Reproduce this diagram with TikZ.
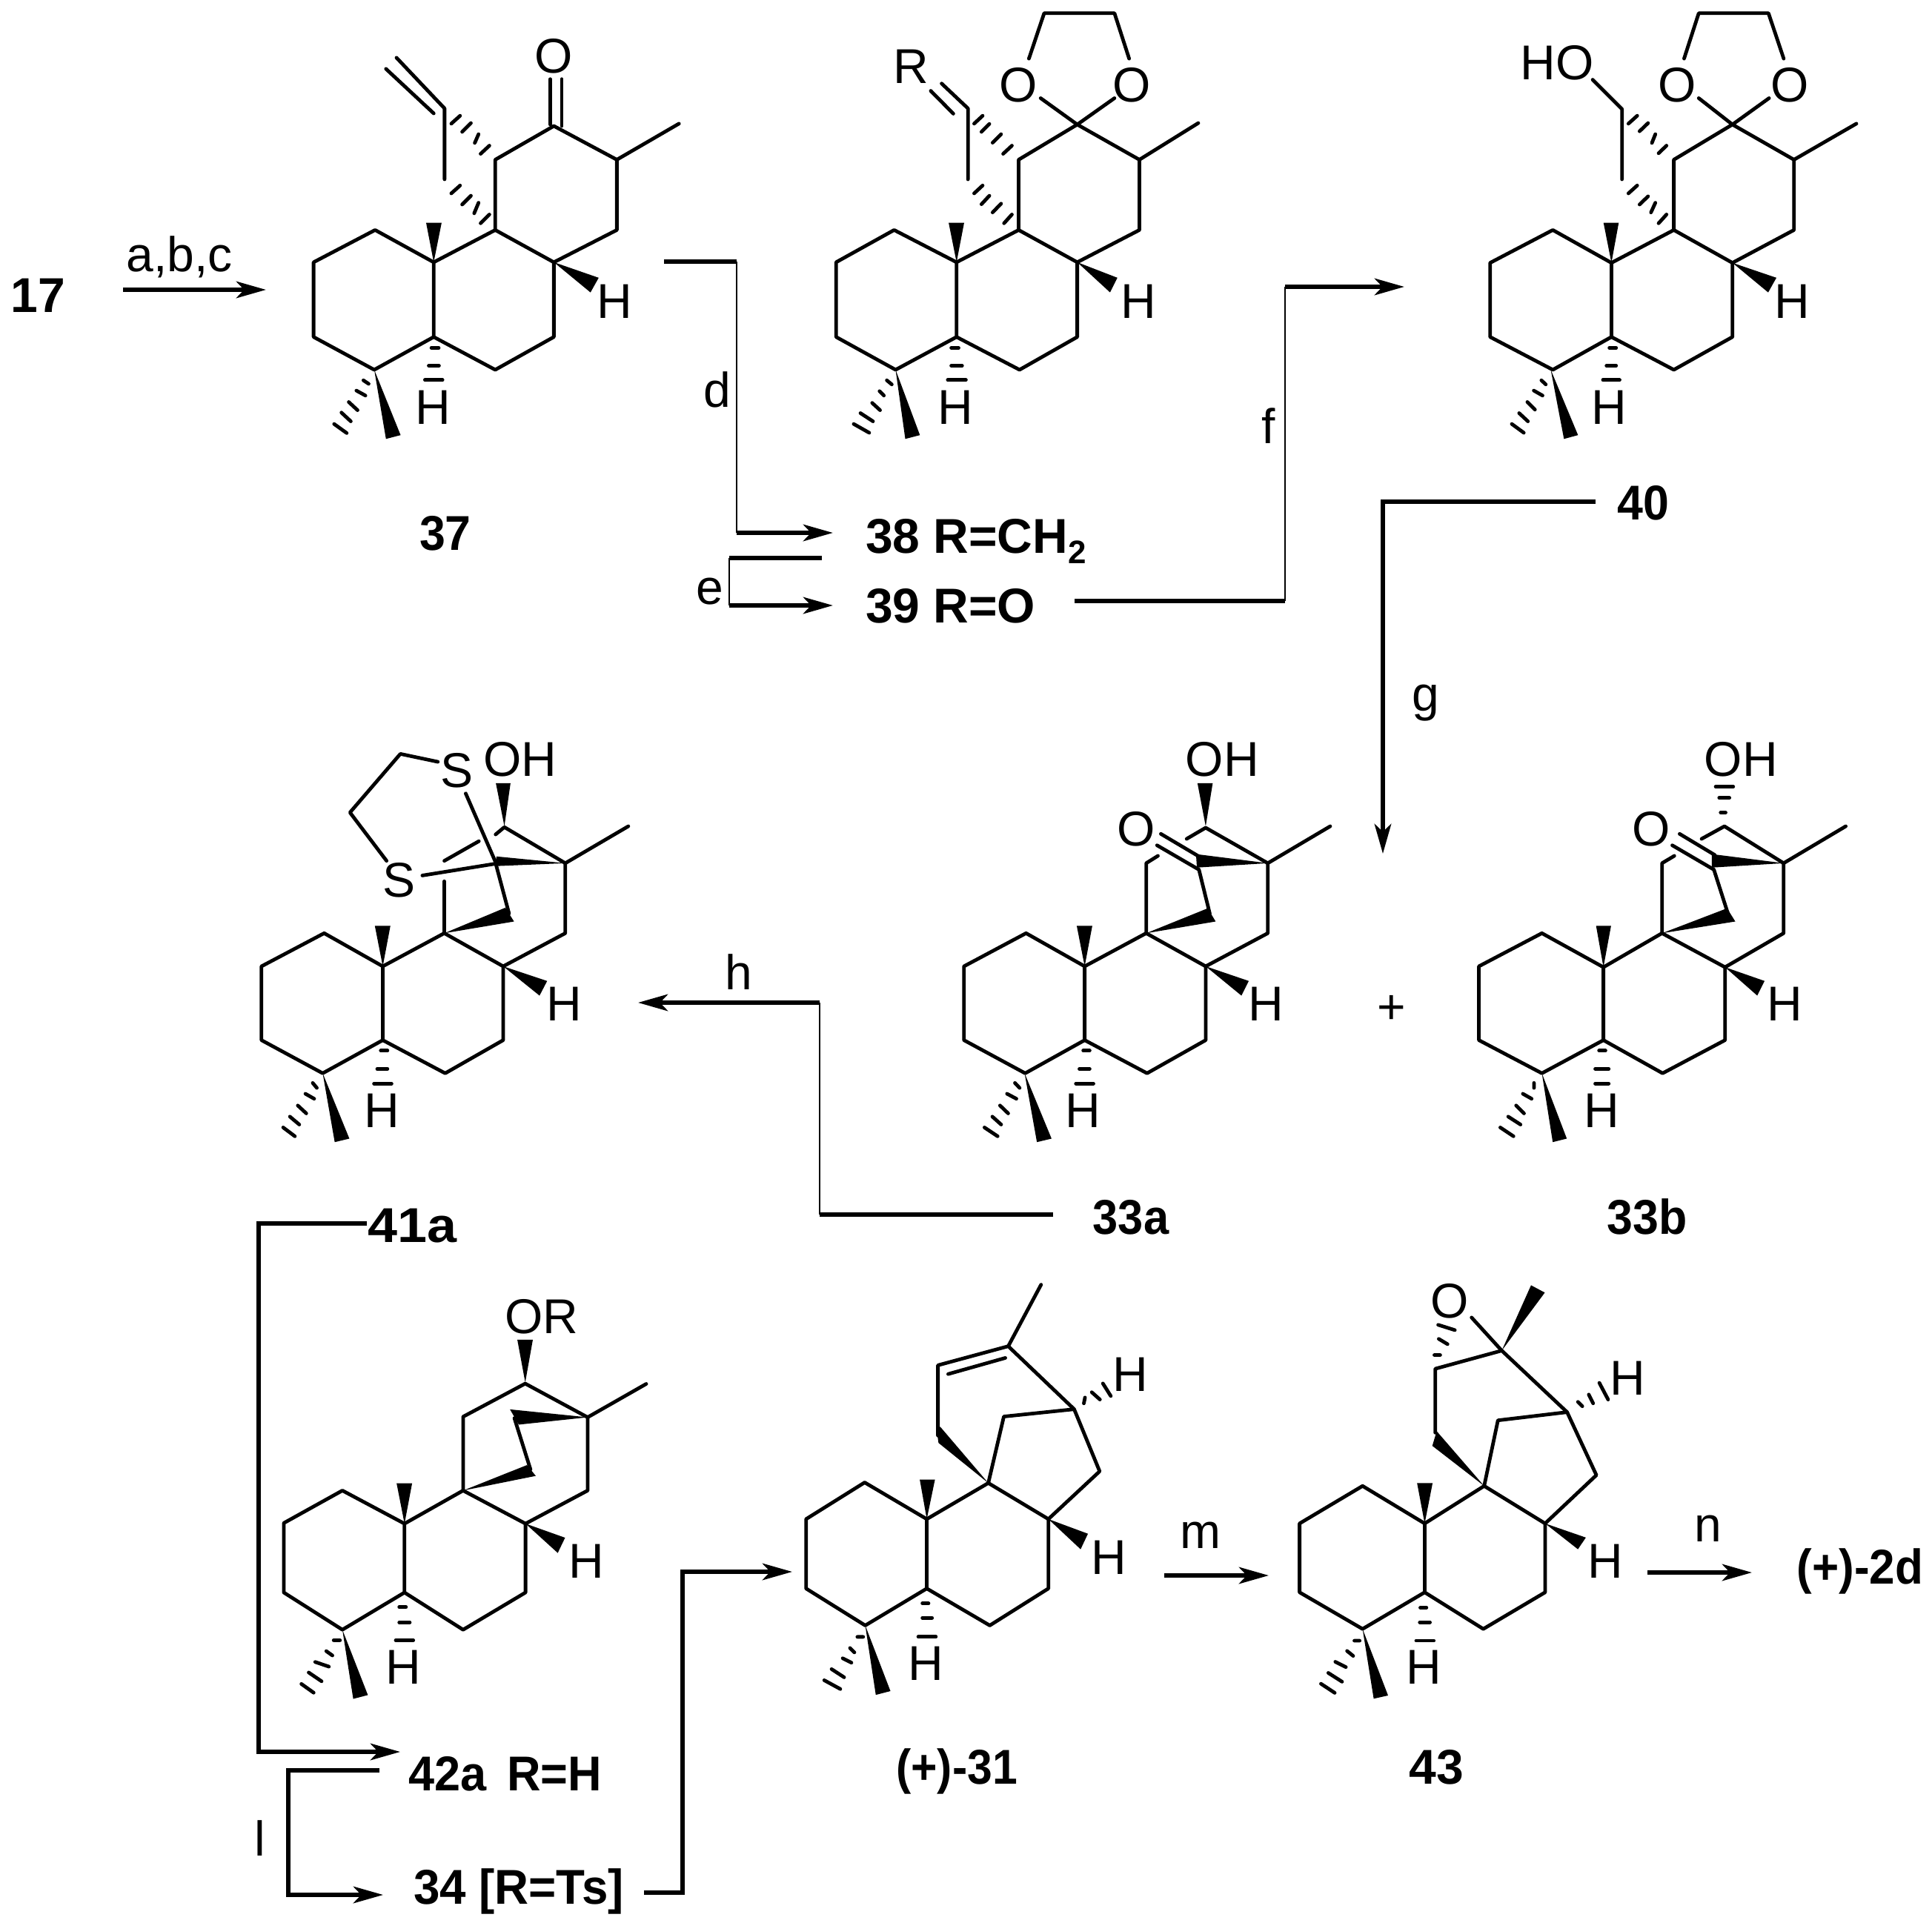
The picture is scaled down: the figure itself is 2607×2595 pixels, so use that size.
\documentclass[tikz,border=0pt]{standalone}
\usepackage{fontspec}
\setmainfont{Liberation Sans}
\usetikzlibrary{arrows.meta}
\tikzset{
  zoomed/.style={x=0.09885pt,y=-0.09885pt},
  bond/.style={line width=1.2pt,line cap=round,line join=round},
  hashb/.style={line width=1.2pt,line cap=round},
  lab/.style={inner sep=0pt,outer sep=0pt,anchor=base,font=\fontsize{16.5}{16.5}\selectfont},
  cmp/.style={inner sep=0pt,outer sep=0pt,anchor=base,font=\fontsize{16.5}{16.5}\selectfont\bfseries},
  cmpw/.style={cmp,anchor=base west},
  thickln/.style={line width=1.5pt,line join=miter},
  thinln/.style={line width=0.5pt},
  arr/.style={line width=1.5pt,-{Stealth[length=10pt,width=5.6pt,inset=2.6pt]}}
}
\begin{document}
\begin{tikzpicture}[x=0.25pt,y=-0.25pt]
\useasboundingbox (0,0) rectangle (2607,2595);
\fill[white] (0,0) rectangle (2607,2595);

% --- 37
\begin{scope}[shift={(350,0)},zoomed]
\draw[bond] (395,785)--(185,895)--(185,1150)--(392,1262)--(595,1150)--(595,895)--cycle;
\draw[bond] (595,895)--(805,785)--(1005,895)--(1005,1150)--(805,1262)--(595,1150);
\draw[bond] (805,785)--(805,545)--(1005,430)--(1220,545)--(1220,785)--(1005,895);
\draw[bond] (1220,545)--(1432,422);
\draw[bond] (632,612)--(632,370)--(468,197);
\draw[bond] (595,387)--(432,235);
\draw[bond] (993,425)--(993,270) (1032,430)--(1032,270);
\fill (595,895)--(569,760)--(622,760)--cycle;
\fill (1005,895)--(1158,948)--(1130,998)--cycle;
\fill (392,1262)--(432,1498)--(482,1485)--cycle;
\draw[hashb] (587,1187)--(612,1187) (578,1248)--(613,1248) (565,1297)--(625,1297);
\draw[hashb] (355,1298)--(373,1310) (331,1333)--(362,1350) (305,1372)--(335,1400) (280,1408)--(312,1438) (255,1447)--(298,1478);
\draw[hashb] (655,422)--(685,395) (692,450)--(722,420) (735,488)--(748,458) (755,525)--(785,497);
\draw[hashb] (655,660)--(685,633) (692,698)--(722,668) (733,728)--(748,692) (755,762)--(785,732);
\node[lab] (aO) at (1005,248) {O};
\node[lab] (aH) at (1213,1085) {H};
\node[lab] (aHb) at (592,1448) {H};
\end{scope}

% --- 38
\begin{scope}[shift={(1080,0)},zoomed]
\draw[bond] (320,785)--(122,895)--(122,1150)--(325,1262)--(533,1150)--(533,895)--cycle;
\draw[bond] (533,895)--(745,785)--(945,895)--(945,1150)--(748,1262)--(533,1150);
\draw[bond] (745,785)--(745,545)--(945,425)--(1157,545)--(1157,785)--(945,895);
\draw[bond] (1157,545)--(1358,420);
\draw[bond] (572,612)--(572,370)--(482,285);
\draw[bond] (522,388)--(445,310);
\draw[bond] (820,335)--(945,425)--(1072,335);
\draw[bond] (780,200)--(832,45)--(1072,45)--(1122,200);
\fill (533,895)--(506,760)--(559,760)--cycle;
\fill (945,895)--(1082,948)--(1057,998)--cycle;
\fill (325,1262)--(358,1498)--(408,1485)--cycle;
\draw[hashb] (515,1187)--(540,1187) (515,1248)--(552,1248) (503,1297)--(565,1297);
\draw[hashb] (295,1298)--(312,1312) (270,1335)--(285,1350) (245,1375)--(272,1400) (205,1410)--(248,1438) (182,1447)--(235,1477);
\draw[hashb] (593,422)--(622,395) (618,450)--(645,423) (656,487)--(685,458) (692,525)--(722,497);
\draw[hashb] (593,660)--(622,633) (618,697)--(645,668) (656,725)--(685,695) (695,762)--(722,732);
\node[lab] (bR) at (378,285) {R};
\node[lab] (bO1) at (745,348) {O};
\node[lab] (bO2) at (1132,348) {O};
\node[lab] (bH) at (1153,1085) {H};
\node[lab] (bHb) at (529,1448) {H};
\end{scope}

% --- 40
\begin{scope}[shift={(1970,0)},zoomed]
\draw[bond] (317,785)--(103,897)--(103,1150)--(317,1262)--(517,1150)--(517,897)--cycle;
\draw[bond] (517,897)--(730,785)--(930,897)--(930,1150)--(730,1262)--(517,1150);
\draw[bond] (730,785)--(730,545)--(930,425)--(1140,545)--(1140,785)--(930,897);
\draw[bond] (1140,545)--(1353,422);
\draw[bond] (553,612)--(553,372)--(453,272);
\draw[bond] (815,335)--(930,425)--(1055,335);
\draw[bond] (765,200)--(815,45)--(1053,45)--(1105,200);
\fill (517,897)--(490,760)--(542,760)--cycle;
\fill (930,897)--(1080,948)--(1052,998)--cycle;
\fill (310,1262)--(355,1498)--(403,1485)--cycle;
\draw[hashb] (510,1187)--(533,1187) (500,1248)--(533,1248) (488,1297)--(545,1297);
\draw[hashb] (278,1298)--(293,1312) (252,1333)--(282,1350) (230,1372)--(256,1398) (202,1410)--(232,1438) (177,1447)--(218,1477);
\draw[hashb] (575,422)--(605,395) (613,448)--(642,420) (655,488)--(667,458) (678,523)--(705,497);
\draw[hashb] (575,660)--(605,633) (613,698)--(642,670) (652,725)--(667,692) (678,762)--(705,732);
\node[lab] (cHO) at (331,273) {HO};
\node[lab] (cO1) at (741,348) {O};
\node[lab] (cO2) at (1127,348) {O};
\node[lab] (cH) at (1135,1085) {H};
\node[lab] (cHb) at (510,1448) {H};
\end{scope}

% --- 41a
\begin{scope}[shift={(320,960)},zoomed]
\draw[bond] (297,757)--(83,870)--(83,1122)--(292,1235)--(497,1122)--(497,870)--cycle;
\draw[bond] (497,870)--(707,757)--(908,870)--(908,1122)--(710,1235)--(497,1122);
\draw[bond] (908,870)--(1120,757)--(1120,518)--(1335,392);
\draw[bond] (1120,518)--(912,395)--(882,420);
\draw[bond] (707,757)--(707,580);
\draw[bond] (707,510)--(825,443);
\draw[bond] (780,280)--(880,510)--(928,690);
\draw[bond] (632,560)--(880,520);
\draw[bond] (685,172)--(557,145)--(385,345)--(510,510);
\fill (912,392)--(883,245)--(933,245)--cycle;
\fill (1120,518)--(885,495)--(880,528)--cycle;
\fill (707,757)--(915,670)--(945,717)--cycle;
\fill (497,870)--(470,732)--(523,732)--cycle;
\fill (908,870)--(1058,920)--(1032,970)--cycle;
\fill (292,1235)--(333,1470)--(383,1458)--cycle;
\draw[hashb] (490,1158)--(513,1158) (478,1220)--(513,1220) (467,1270)--(527,1270);
\draw[hashb] (258,1268)--(272,1285) (233,1305)--(263,1322) (207,1345)--(236,1372) (180,1383)--(212,1410) (157,1420)--(197,1450);
\node[lab] (dS1) at (750,258) {S};
\node[lab] (dS2) at (552,633) {S};
\node[lab] (dOH) at (965,221) {OH};
\node[lab] (dH) at (1117,1057) {H};
\node[lab] (dHb) at (495,1420) {H};
\end{scope}

% --- 33a
\begin{scope}[shift={(1260,960)},zoomed]
\draw[bond] (315,757)--(103,870)--(103,1122)--(312,1235)--(515,1122)--(515,870)--cycle;
\draw[bond] (515,870)--(725,757)--(928,870)--(928,1122)--(728,1235)--(515,1122);
\draw[bond] (765,493)--(725,518)--(725,757);
\draw[bond] (928,870)--(1140,757)--(1140,518)--(1353,392);
\draw[bond] (1140,518)--(928,397)--(863,435);
\draw[bond] (775,418)--(905,495);
\draw[bond] (762,457)--(905,540)--(942,690);
\fill (928,392)--(900,245)--(952,245)--cycle;
\fill (1140,518)--(895,487)--(898,533)--cycle;
\fill (725,757)--(935,672)--(962,717)--cycle;
\fill (515,870)--(488,732)--(541,732)--cycle;
\fill (928,870)--(1075,920)--(1050,970)--cycle;
\fill (310,1235)--(352,1470)--(402,1458)--cycle;
\draw[hashb] (510,1158)--(532,1158) (497,1220)--(532,1220) (485,1270)--(545,1270);
\draw[hashb] (277,1268)--(293,1285) (250,1305)--(282,1322) (226,1345)--(254,1372) (200,1383)--(230,1410) (173,1420)--(218,1450);
\node[lab] (eO) at (690,458) {O};
\node[lab] (eOH) at (985,221) {OH};
\node[lab] (eH) at (1133,1057) {H};
\node[lab] (eHb) at (510,1420) {H};
\end{scope}

% --- 33b
\begin{scope}[shift={(1960,960)},zoomed]
\draw[bond] (305,757)--(90,870)--(90,1122)--(305,1235)--(515,1122)--(515,873)--cycle;
\draw[bond] (515,873)--(715,757)--(930,873)--(930,1122)--(717,1235)--(515,1122);
\draw[bond] (757,493)--(715,518)--(715,757);
\draw[bond] (930,873)--(1130,757)--(1130,518)--(1342,392);
\draw[bond] (1130,518)--(928,392)--(850,435);
\draw[bond] (775,418)--(895,490);
\draw[bond] (750,457)--(892,540)--(940,690);
\fill (1130,518)--(885,487)--(885,533)--cycle;
\fill (715,757)--(937,672)--(965,717)--cycle;
\fill (515,873)--(490,732)--(541,732)--cycle;
\fill (930,873)--(1065,920)--(1040,970)--cycle;
\fill (305,1235)--(342,1470)--(390,1458)--cycle;
\draw[hashb] (915,345)--(932,345) (910,295)--(945,295) (898,257)--(958,257);
\draw[hashb] (500,1158)--(522,1158) (487,1220)--(533,1220) (487,1270)--(533,1270);
\draw[hashb] (278,1268)--(278,1285) (240,1305)--(270,1322) (217,1345)--(244,1372) (190,1383)--(232,1410) (163,1420)--(208,1450);
\node[lab] (fO) at (678,458) {O};
\node[lab] (fOH) at (985,221) {OH};
\node[lab] (fH) at (1135,1057) {H};
\node[lab] (fHb) at (510,1420) {H};
\end{scope}

% --- 42a / 34
\begin{scope}[shift={(360,1720)},zoomed]
\draw[bond] (258,737)--(58,848)--(58,1085)--(258,1212)--(470,1085)--(470,850)--cycle;
\draw[bond] (470,850)--(670,737)--(883,850)--(883,1085)--(670,1212)--(470,1085);
\draw[bond] (670,737)--(670,485)--(882,372)--(1095,487)--(1095,737)--(883,850);
\draw[bond] (1095,487)--(1295,373);
\draw[bond] (845,490)--(900,665);
\fill (882,368)--(855,222)--(908,222)--cycle;
\fill (1095,487)--(830,460)--(860,512)--cycle;
\fill (670,737)--(888,650)--(918,687)--cycle;
\fill (470,850)--(443,712)--(496,712)--cycle;
\fill (883,850)--(1018,898)--(993,950)--cycle;
\fill (258,1212)--(295,1448)--(345,1435)--cycle;
\draw[hashb] (452,1135)--(475,1135) (452,1187)--(488,1187) (440,1248)--(500,1248);
\draw[hashb] (228,1248)--(250,1248) (203,1285)--(224,1300) (165,1322)--(212,1338) (143,1358)--(187,1388) (118,1397)--(160,1427);
\node[lab] (gOR) at (938,201) {OR};
\node[lab] (gH) at (1090,1035) {H};
\node[lab] (gHb) at (465,1397) {H};
\end{scope}

% --- (+)-31
\begin{scope}[shift={(1060,1700)},zoomed]
\draw[bond] (270,760)--(70,885)--(70,1122)--(272,1248)--(482,1122)--(482,885)--cycle;
\draw[bond] (482,885)--(692,762)--(897,885)--(897,1122)--(697,1248)--(482,1122);
\draw[bond] (692,762)--(745,535)--(985,510)--(1072,722)--(897,885);
\draw[bond] (985,510)--(760,295)--(520,360)--(520,600);
\draw[bond] (555,390)--(750,335);
\draw[bond] (760,295)--(872,85);
\fill (692,762)--(528,570)--(515,575)--(522,625)--cycle;
\fill (482,885)--(458,750)--(510,750)--cycle;
\fill (897,885)--(1032,935)--(1007,988)--cycle;
\fill (272,1248)--(308,1485)--(358,1472)--cycle;
\draw[hashb] (1018,490)--(1022,470) (1045,452)--(1073,477) (1083,422)--(1110,465);
\draw[hashb] (467,1173)--(488,1173) (467,1222)--(500,1222) (453,1287)--(513,1287);
\draw[hashb] (245,1287)--(265,1287) (220,1325)--(235,1340) (195,1360)--(225,1375) (157,1397)--(200,1425) (132,1435)--(187,1465);
\node[lab] (hH1) at (1178,450) {H};
\node[lab] (hH) at (1103,1073) {H};
\node[lab] (hHb) at (480,1435) {H};
\end{scope}

% --- 43
\begin{scope}[shift={(1720,1700)},zoomed]
\draw[bond] (300,772)--(85,900)--(85,1135)--(300,1260)--(512,1135)--(512,900)--cycle;
\draw[bond] (512,900)--(715,772)--(923,900)--(923,1135)--(712,1260)--(512,1135);
\draw[bond] (715,772)--(762,548)--(998,520)--(1098,735)--(923,900);
\draw[bond] (998,520)--(775,310)--(548,372)--(548,590);
\draw[bond] (775,310)--(672,197);
\fill (775,310)--(875,87)--(922,112)--cycle;
\fill (715,772)--(553,585)--(538,635)--cycle;
\fill (512,900)--(486,762)--(539,762)--cycle;
\fill (923,900)--(1062,948)--(1035,988)--cycle;
\fill (300,1260)--(338,1498)--(387,1487)--cycle;
\draw[hashb] (545,325)--(565,325) (560,270)--(590,288) (558,222)--(615,240);
\draw[hashb] (1035,485)--(1050,500) (1072,460)--(1087,490) (1108,420)--(1138,477);
\draw[hashb] (497,1187)--(518,1187) (495,1237)--(530,1237) (483,1300)--(543,1300);
\draw[hashb] (272,1300)--(290,1300) (247,1335)--(268,1352) (207,1372)--(243,1390) (183,1410)--(230,1440) (158,1447)--(205,1478);
\node[lab] (iO) at (598,198) {O};
\node[lab] (iH1) at (1205,462) {H};
\node[lab] (iH) at (1130,1085) {H};
\node[lab] (iHb) at (508,1447) {H};
\end{scope}

% --- compound labels
\node[cmpw] (n17) at (15,421) {17};
\node[cmp] (n37) at (601,742) {\scalebox{.95}[1]{37}};
\node[cmpw] (n38) at (1168,746) {38 R=CH\raisebox{-0.22em}{\fontsize{11}{11}\selectfont 2}};
\node[cmpw] (n39) at (1168,840) {39 R=O};
\node[cmp] (n40) at (2217,701) {\scalebox{.95}[1]{40}};
\node[cmp] (n41a) at (557,1676) {\scalebox{1.09}[1]{41a}};
\node[cmp] (n33a) at (1526,1665) {\scalebox{.93}[1]{33a}};
\node[cmp] (n33b) at (2223,1665) {\scalebox{.95}[1]{33b}};
\node[cmpw] (n42a) at (551,2416) {\scalebox{.955}[1]{42a\hspace{0.45em}R=H}};
\node[cmpw] (n34) at (558,2569) {\scalebox{.965}[1]{34 [R=Ts]}};
\node[cmp] (n31) at (1291,2407) {\scalebox{.92}[1]{(+)-31}};
\node[cmp] (n43) at (1938,2407) {43};
\node[cmp] (n2d) at (2510,2137) {\scalebox{.94}[1]{(+)-2d}};

% --- reagent labels
\node[lab] (la) at (242,366) {a,b,c};
\node[lab] (ld) at (968,549) {d};
\node[lab] (le) at (958,815) {e};
\node[lab] (lf) at (1712,598) {f};
\node[lab] (lg) at (1924,959) {g};
\node[lab] (lh) at (997,1335) {h};
\node[lab] (ll) at (351,2504) {l};
\node[lab] (lm) at (1620,2089) {m};
\node[lab] (ln) at (2305,2080) {n};
\node[lab] (plus) at (1878,1381) {+};

% --- connector points
\coordinate (a0) at (166,391); \coordinate (a1) at (359,391);
\coordinate (d0) at (896,353); \coordinate (d1) at (994,353); \coordinate (d2) at (994,719); \coordinate (d3) at (1124,719);
\coordinate (e0) at (1109,753); \coordinate (e1) at (984,753); \coordinate (e2) at (984,817); \coordinate (e3) at (1124,817);
\coordinate (f0) at (1450,811); \coordinate (f1) at (1734,811); \coordinate (f2) at (1734,387); \coordinate (f3) at (1895,387);
\coordinate (g0) at (2153,677); \coordinate (g1) at (1866,677); \coordinate (g2) at (1866,1152);
\coordinate (h0) at (1421,1639); \coordinate (h1) at (1106,1639); \coordinate (h2) at (1106,1353); \coordinate (h3) at (861,1353);
\coordinate (k0) at (495,1651); \coordinate (k1) at (349,1651); \coordinate (k2) at (349,2364); \coordinate (k3) at (540,2364);
\coordinate (l0) at (512,2389); \coordinate (l1) at (389,2389); \coordinate (l2) at (389,2557); \coordinate (l3) at (517,2557);
\coordinate (p0) at (869,2554); \coordinate (p1) at (921,2554); \coordinate (p2) at (921,2121); \coordinate (p3) at (1069,2121);
\coordinate (m0) at (1571,2126); \coordinate (m1) at (1712,2126);
\coordinate (q0) at (2223,2122); \coordinate (q1) at (2364,2122);

\draw[arr] (a0)--(a1);
\draw[thickln] (d0)--(d1); \draw[thinln] (d1)--(d2); \draw[arr] (d2)--(d3);
\draw[thickln] (e0)--(e1); \draw[thinln] (e1)--(e2); \draw[arr] (e2)--(e3);
\draw[thickln] (f0)--(f1); \draw[thinln] (f1)--(f2); \draw[arr] (f2)--(f3);
\draw[arr] (g0)--(g1)--(g2);
\draw[thickln] (h0)--(h1); \draw[thinln] (h1)--(h2); \draw[arr] (h2)--(h3);
\draw[arr] (k0)--(k1)--(k2)--(k3);
\draw[arr] (l0)--(l1)--(l2)--(l3);
\draw[arr] (p0)--(p1)--(p2)--(p3);
\draw[arr] (m0)--(m1);
\draw[arr] (q0)--(q1);
\end{tikzpicture}
\end{document}
